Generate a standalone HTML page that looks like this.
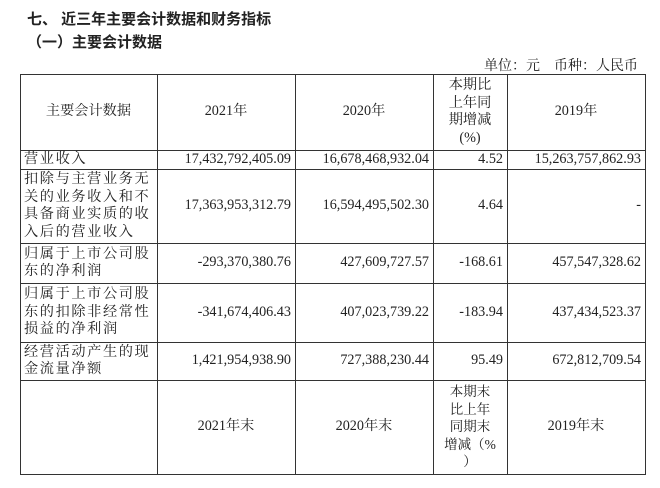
<!DOCTYPE html>
<html><head><meta charset="utf-8"><style>
body{margin:0;width:660px;height:488px;background:#fff;position:relative;font-family:"Liberation Serif","Noto Serif CJK SC",serif;color:#222;overflow:hidden}
.t{position:absolute;white-space:nowrap}
.b{font-family:"Liberation Sans","Noto Sans CJK SC",sans-serif;font-weight:bold;font-size:15px}
.h{position:absolute;height:1px;background:#333}
.v{position:absolute;width:1px;background:#333}
.c{position:absolute;display:flex;align-items:center;font-size:14.2px;line-height:17.5px}
.r{justify-content:flex-end;padding-right:4px;box-sizing:border-box}
.m{justify-content:center;text-align:center}
.l{padding-left:4px;letter-spacing:1.6px}
</style></head><body>
<div class="t b" style="left:27px;top:8px">七、 近三年主要会计数据和财务指标</div>
<div class="t b" style="left:27px;top:31px">（一）主要会计数据</div>
<div class="t" style="left:484px;top:55px;font-size:14px">单位：元　币种：人民币</div>
<div class="v" style="left:20px;top:74px;height:401px"></div>
<div class="v" style="left:157px;top:74px;height:401px"></div>
<div class="v" style="left:295px;top:74px;height:401px"></div>
<div class="v" style="left:433px;top:74px;height:401px"></div>
<div class="v" style="left:507px;top:74px;height:401px"></div>
<div class="v" style="left:645px;top:74px;height:401px"></div>
<div class="h" style="left:20px;top:74px;width:626px"></div>
<div class="h" style="left:20px;top:150px;width:626px"></div>
<div class="h" style="left:20px;top:169px;width:626px"></div>
<div class="h" style="left:20px;top:243px;width:626px"></div>
<div class="h" style="left:20px;top:283px;width:626px"></div>
<div class="h" style="left:20px;top:342px;width:626px"></div>
<div class="h" style="left:20px;top:380px;width:626px"></div>
<div class="h" style="left:20px;top:474px;width:626px"></div>

<div class="c m" style="left:20px;top:74px;width:137px;height:76px">主要会计数据</div>
<div class="c m" style="left:157px;top:74px;width:138px;height:76px">2021年</div>
<div class="c m" style="left:295px;top:74px;width:138px;height:76px">2020年</div>
<div class="c m" style="left:433px;top:74px;width:74px;height:76px">本期比<br>上年同<br>期增减<br>(%)</div>
<div class="c m" style="left:507px;top:74px;width:138px;height:76px">2019年</div>

<div class="c l" style="left:20px;top:150px;width:137px;height:19px">营业收入</div>
<div class="c r" style="left:157px;top:150px;width:138px;height:19px">17,432,792,405.09</div>
<div class="c r" style="left:295px;top:150px;width:138px;height:19px">16,678,468,932.04</div>
<div class="c r" style="left:433px;top:150px;width:74px;height:19px">4.52</div>
<div class="c r" style="left:507px;top:150px;width:138px;height:19px">15,263,757,862.93</div>

<div class="c l" style="left:20px;top:169px;width:137px;height:74px">扣除与主营业务无<br>关的业务收入和不<br>具备商业实质的收<br>入后的营业收入</div>
<div class="c r" style="left:157px;top:169px;width:138px;height:74px">17,363,953,312.79</div>
<div class="c r" style="left:295px;top:169px;width:138px;height:74px">16,594,495,502.30</div>
<div class="c r" style="left:433px;top:169px;width:74px;height:74px">4.64</div>
<div class="c r" style="left:507px;top:169px;width:138px;height:74px">-</div>

<div class="c l" style="left:20px;top:243px;width:137px;height:40px">归属于上市公司股<br>东的净利润</div>
<div class="c r" style="left:157px;top:243px;width:138px;height:40px">-293,370,380.76</div>
<div class="c r" style="left:295px;top:243px;width:138px;height:40px">427,609,727.57</div>
<div class="c r" style="left:433px;top:243px;width:74px;height:40px">-168.61</div>
<div class="c r" style="left:507px;top:243px;width:138px;height:40px">457,547,328.62</div>

<div class="c l" style="left:20px;top:283px;width:137px;height:59px">归属于上市公司股<br>东的扣除非经常性<br>损益的净利润</div>
<div class="c r" style="left:157px;top:283px;width:138px;height:59px">-341,674,406.43</div>
<div class="c r" style="left:295px;top:283px;width:138px;height:59px">407,023,739.22</div>
<div class="c r" style="left:433px;top:283px;width:74px;height:59px">-183.94</div>
<div class="c r" style="left:507px;top:283px;width:138px;height:59px">437,434,523.37</div>

<div class="c l" style="left:20px;top:342px;width:137px;height:38px">经营活动产生的现<br>金流量净额</div>
<div class="c r" style="left:157px;top:342px;width:138px;height:38px">1,421,954,938.90</div>
<div class="c r" style="left:295px;top:342px;width:138px;height:38px">727,388,230.44</div>
<div class="c r" style="left:433px;top:342px;width:74px;height:38px">95.49</div>
<div class="c r" style="left:507px;top:342px;width:138px;height:38px">672,812,709.54</div>

<div class="c m" style="left:157px;top:380px;width:138px;height:94px">2021年末</div>
<div class="c m" style="left:295px;top:380px;width:138px;height:94px">2020年末</div>
<div class="c m" style="left:433px;top:380px;width:74px;height:94px;font-size:13.5px">本期末<br>比上年<br>同期末<br>增减（%<br>）</div>
<div class="c m" style="left:507px;top:380px;width:138px;height:94px">2019年末</div>
</body></html>
